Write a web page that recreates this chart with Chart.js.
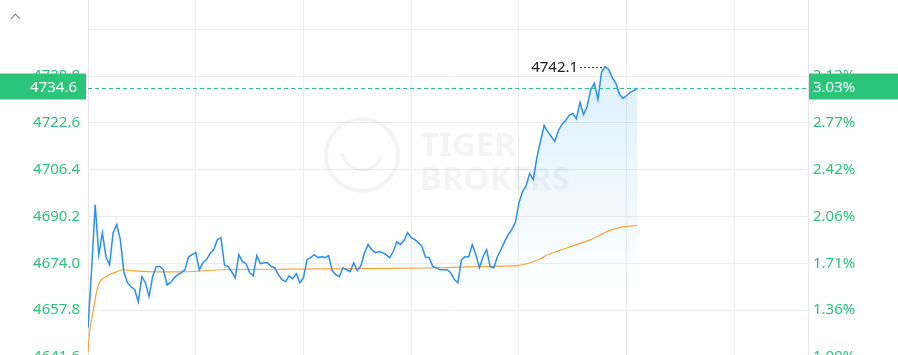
<!DOCTYPE html>
<html>
<head>
<meta charset="utf-8">
<script src="https://cdn.jsdelivr.net/npm/chart.js@4.4.0/dist/chart.umd.min.js"></script>
<style>
    html, body { margin: 0; padding: 0; background: #fff; overflow: hidden; }
    #wrap { position: relative; width: 898px; height: 355px; overflow: hidden; }
    #chart { position: absolute; left: 0; top: 0; }
    .caret {
        position: absolute; left: 12px; top: 15px; width: 6px; height: 6px;
        border-left: 1.5px solid #7a7a7a; border-top: 1.5px solid #7a7a7a;
        transform: rotate(45deg);
    }
</style>
</head>
<body>
<div id="wrap">
    <canvas id="chart" width="898" height="380"></canvas>
    <div class="caret"></div>
</div>
<script>
// Intraday prices, one sample every 2 minutes from the open
const STEP = 2;
const prices = [
    4651.7, 4671.8, 4694.3, 4677.0, 4684.6, 4676.3, 4673.5, 4684.6, 4687.4, 4682.2,
    4670.8, 4667.3, 4665.9, 4664.9, 4660.7, 4669.4, 4667.3, 4662.5, 4669.4, 4672.9,
    4672.9, 4671.8, 4666.6, 4667.3, 4669.0, 4670.1, 4670.8, 4671.8, 4676.3, 4677.0,
    4677.7, 4671.8, 4674.2, 4675.3, 4677.4, 4678.7, 4682.2, 4682.9, 4673.5, 4672.9,
    4671.1, 4669.0, 4677.0, 4674.6, 4673.9, 4670.8, 4669.7, 4676.7, 4673.9, 4674.2,
    4674.2, 4672.9, 4672.5, 4670.1, 4668.4, 4667.7, 4669.7, 4668.7, 4670.4, 4667.3,
    4669.0, 4675.3, 4676.0, 4677.0, 4676.0, 4676.3, 4676.0, 4676.7, 4671.5, 4670.1,
    4669.4, 4672.5, 4671.8, 4671.1, 4674.2, 4671.5, 4673.2, 4677.7, 4680.5, 4678.7,
    4677.7, 4678.1, 4677.7, 4677.0, 4676.0, 4678.1, 4681.5, 4680.5, 4681.9, 4684.6,
    4682.9, 4682.2, 4681.2, 4679.8, 4676.0, 4676.0, 4672.9, 4672.5, 4671.8, 4671.8,
    4671.8, 4670.8, 4668.4, 4667.3, 4675.3, 4676.3, 4676.3, 4680.5, 4677.0, 4672.5,
    4676.3, 4678.7, 4672.9, 4672.5, 4676.3, 4678.7, 4681.5, 4683.9, 4685.7, 4688.1,
    4695.0, 4698.8, 4700.9, 4705.1, 4703.0, 4710.6, 4716.2, 4721.7, 4719.6, 4717.9,
    4716.2, 4720.0, 4722.1, 4723.4, 4725.2, 4725.9, 4724.1, 4729.7, 4725.5, 4728.3,
    4734.2, 4736.3, 4730.7, 4740.1, 4742.1, 4741.1, 4738.3, 4736.3, 4732.5, 4731.1,
    4732.1, 4733.2, 4733.8, 4734.6
];

// Average price line
const avgMinutes = [0, 1, 3, 5, 7, 10, 12, 16, 19, 24, 35, 54, 76, 112, 152, 190, 218, 239, 246, 252, 256, 267, 280, 289, 296, 306];
const avgPrices = [4643.1, 4651.0, 4658.0, 4664.9, 4668.0, 4669.4, 4670.1, 4671.1, 4671.8, 4671.5, 4671.1, 4671.1, 4671.8, 4672.0, 4672.2, 4672.4, 4672.9, 4673.2, 4674.2, 4675.6, 4677.0, 4679.4, 4682.2, 4685.0, 4686.4, 4687.1];

// Axis ticks
const hourTicks = [0, 60, 120, 180, 240, 300, 360];
const priceTicks = [4641.6, 4657.8, 4674.0, 4690.2, 4706.4, 4722.6, 4738.8, 4755.0];
const priceLabels = ['4641.6', '4657.8', '4674.0', '4690.2', '4706.4', '4722.6', '4738.8', ''];
const pctLabels = ['1.00%', '1.36%', '1.71%', '2.06%', '2.42%', '2.77%', '3.12%', ''];

const lastPrice = 4734.6;
const lastPct = '3.03%';

const GREEN = '#2bc47b';
const BLUE = '#2b8ff0';
const FONT = '"Noto Sans", "Open Sans", sans-serif';
const Y_MIN = 4633.64, Y_MAX = 4765.14, X_MAX = 401;

const setTicks = list => scale => { scale.ticks = list.map(v => ({ value: v })); };

// faint logo behind the lines
const watermark = {
    id: 'watermark',
    beforeDatasetsDraw(chart) {
        const ctx = chart.ctx;
        ctx.save();
        ctx.strokeStyle = 'rgba(0,0,0,0.045)';
        ctx.fillStyle = 'rgba(0,0,0,0.045)';
        ctx.lineWidth = 4;
        ctx.beginPath();
        ctx.arc(362, 155, 36, 0, Math.PI * 2);
        ctx.stroke();
        ctx.lineWidth = 3;
        ctx.beginPath();
        ctx.arc(362, 150, 20, Math.PI * 0.1, Math.PI * 0.95);
        ctx.stroke();
        ctx.font = 'bold 33px ' + FONT;
        ctx.textBaseline = 'alphabetic';
        ctx.fillText('TIGER', 420, 156);
        ctx.fillText('BROKERS', 420, 190);
        ctx.restore();
    }
};

// last price marker and day high label
const overlay = {
    id: 'overlay',
    afterDraw(chart) {
        const ctx = chart.ctx;
        const { left, right } = chart.chartArea;
        const yS = chart.scales.y, xS = chart.scales.x;
        const py = Math.round(yS.getPixelForValue(lastPrice)) + 0.5;

        ctx.save();
        ctx.strokeStyle = GREEN;
        ctx.lineWidth = 1;
        ctx.setLineDash([4, 3]);
        ctx.beginPath();
        ctx.moveTo(left, py);
        ctx.lineTo(right, py);
        ctx.stroke();

        ctx.setLineDash([]);
        ctx.fillStyle = GREEN;
        ctx.fillRect(0, py - 15, left - 2, 26);
        ctx.fillRect(right + 1, py - 15, chart.width - right - 1, 26);
        ctx.fillStyle = '#fff';
        ctx.font = '15px ' + FONT;
        ctx.textBaseline = 'middle';
        ctx.textAlign = 'right';
        ctx.fillText(lastPrice.toFixed(1), left - 11, py - 1);
        ctx.textAlign = 'left';
        ctx.fillText(lastPct, right + 5, py - 1);

        // day high
        let hi = 0;
        prices.forEach((p, i) => { if (p > prices[hi]) hi = i; });
        const hx = xS.getPixelForValue(hi * STEP);
        const hy = Math.round(yS.getPixelForValue(prices[hi])) + 0.5;
        ctx.strokeStyle = '#333';
        ctx.setLineDash([2, 2]);
        ctx.beginPath();
        ctx.moveTo(hx - 3, hy);
        ctx.lineTo(hx - 26, hy);
        ctx.stroke();
        ctx.fillStyle = '#222';
        ctx.textAlign = 'right';
        ctx.fillText(prices[hi].toFixed(1), hx - 27, hy);
        ctx.restore();
    }
};

const ctx = document.getElementById('chart').getContext('2d');

new Chart(ctx, {
    type: 'line',
    data: {
        datasets: [{
            data: prices.map((p, i) => ({ x: i * STEP, y: p })),
            borderColor: BLUE,
            borderWidth: 1.5,
            pointRadius: 0,
            tension: 0,
            fill: 'start',
            backgroundColor: c => {
                const chart = c.chart;
                if (!chart.chartArea) return 'transparent';
                const y = chart.scales.y;
                const g = chart.ctx.createLinearGradient(0, y.getPixelForValue(4745), 0, y.getPixelForValue(4668));
                g.addColorStop(0, 'rgba(43,160,240,0.17)');
                g.addColorStop(0.75, 'rgba(43,160,240,0.05)');
                g.addColorStop(1, 'rgba(43,160,240,0)');
                return g;
            }
        }, {
            data: avgMinutes.map((m, i) => ({ x: m, y: avgPrices[i] })),
            borderColor: '#f7a638',
            borderWidth: 1.2,
            pointRadius: 0,
            tension: 0.2,
            fill: false
        }]
    },
    options: {
        responsive: false,
        animation: false,
        layout: { padding: 0 },
        plugins: {
            legend: { display: false },
            tooltip: { enabled: false }
        },
        scales: {
            x: {
                type: 'linear',
                min: 0,
                max: X_MAX,
                afterBuildTicks: setTicks(hourTicks),
                ticks: { display: false },
                grid: { color: '#ececec', drawTicks: false },
                border: { display: false }
            },
            y: {
                position: 'left',
                min: Y_MIN,
                max: Y_MAX,
                afterBuildTicks: setTicks(priceTicks),
                ticks: {
                    color: GREEN,
                    font: { family: FONT, size: 15 },
                    padding: 8,
                    callback: (v, i) => priceLabels[i]
                },
                grid: { color: '#ececec', drawTicks: false },
                border: { color: '#e6e6e6' },
                afterFit: s => { s.width = 88; s.paddingTop = 0; s.paddingBottom = 0; }
            },
            y2: {
                position: 'right',
                min: Y_MIN,
                max: Y_MAX,
                afterBuildTicks: setTicks(priceTicks),
                ticks: {
                    color: GREEN,
                    font: { family: FONT, size: 15 },
                    padding: 5,
                    callback: (v, i) => pctLabels[i]
                },
                grid: { display: false, drawTicks: false },
                border: { color: '#e6e6e6' },
                afterFit: s => { s.width = 90; s.paddingTop = 0; s.paddingBottom = 0; }
            }
        }
    },
    plugins: [watermark, overlay]
});
</script>
</body>
</html>
